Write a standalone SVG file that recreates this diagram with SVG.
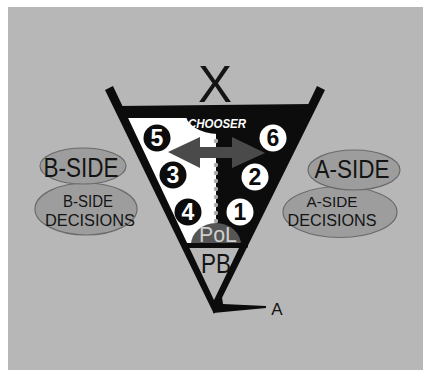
<svg xmlns="http://www.w3.org/2000/svg" width="428" height="372" viewBox="0 0 428 372">
<style>
.t{font-family:"Liberation Sans",Arial,sans-serif;fill:#141414;text-anchor:middle}
.oval{fill:#9d9d9d;stroke:#6a6a6a;stroke-width:1.2}
.bk{fill:#0c0c0c}
.num{font-family:"Liberation Sans",Arial,sans-serif;font-size:23px;font-weight:bold;text-anchor:middle}
.dot{fill:#a9a9a9}
</style>
<rect x="0" y="0" width="428" height="372" fill="#ffffff"/>
<rect id="background" x="8" y="7" width="415" height="363" fill="#b7b7b7"/>
<g id="funnel">
  <polygon class="bk" points="118,106 312,104 246,248 183,248"/>
  <polygon fill="#ffffff" points="126,118 216,118 216,243 185,243"/>
  <path class="bk" d="M185,112 A33,22 0 0 0 251,112 Z"/>
  <g id="perforation">
    <circle class="dot" cx="216" cy="141" r="2.2"/>
    <circle class="dot" cx="216" cy="149" r="2.2"/>
    <circle class="dot" cx="216" cy="165" r="2.2"/>
    <circle class="dot" cx="216" cy="173" r="2.2"/>
    <circle class="dot" cx="216" cy="181" r="2.2"/>
    <circle class="dot" cx="216" cy="189" r="2.2"/>
    <circle class="dot" cx="216" cy="197" r="2.2"/>
    <circle class="dot" cx="216" cy="205" r="2.2"/>
    <circle class="dot" cx="216" cy="213" r="2.2"/>
    <circle class="dot" cx="216" cy="221" r="2.2"/>
    <circle class="dot" cx="216" cy="229" r="2.2"/>
  </g>
  <polygon id="double-arrow" fill="#4a4a4a" points="168,152 200,137 200,147 232,147 232,137 265,153 232,168 232,158 200,158 200,168"/>
  <path d="M191,245 A25,22 0 0 1 241,245 Z" fill="#555555"/>
  <rect class="bk" x="182" y="243" width="66" height="4.5"/>
  <polygon class="bk" points="105,90 113,86 214,300 317,86 325,90 214,314"/>
  <polygon class="bk" points="217,297 222,297 223,304 266,306 266,308 213,313"/>
</g>
<text class="t" x="215" y="102" font-size="51" style="font-weight:300">X</text>
<text x="217" y="128" font-family="'Liberation Sans',Arial,sans-serif" font-size="13" font-weight="bold" font-style="italic" fill="#ffffff" text-anchor="middle" textLength="58" lengthAdjust="spacingAndGlyphs">CHOOSER</text>
<g id="n5"><circle cx="157" cy="138" r="13.5" fill="#0c0c0c"/><text class="num" x="157" y="146" fill="#ffffff">5</text></g>
<g id="n6"><circle cx="273" cy="138" r="13.5" fill="#ffffff"/><text class="num" x="273" y="146" fill="#0c0c0c">6</text></g>
<g id="n3"><circle cx="173" cy="175" r="13.5" fill="#0c0c0c"/><text class="num" x="173" y="183" fill="#ffffff">3</text></g>
<g id="n2"><circle cx="255" cy="177" r="13.5" fill="#ffffff"/><text class="num" x="255" y="185" fill="#0c0c0c">2</text></g>
<g id="n4"><circle cx="188" cy="212" r="13.5" fill="#0c0c0c"/><text class="num" x="188" y="220" fill="#ffffff">4</text></g>
<g id="n1"><circle cx="240" cy="212" r="13.5" fill="#ffffff"/><text class="num" x="240" y="220" fill="#0c0c0c">1</text></g>
<text id="pol" x="218" y="242" font-family="'Liberation Sans',Arial,sans-serif" font-size="22" fill="#cfcfcf" text-anchor="middle" textLength="38" lengthAdjust="spacingAndGlyphs">PoL</text>
<text id="pb" class="t" x="216" y="273" font-size="27" textLength="30" lengthAdjust="spacingAndGlyphs">PB</text>
<text id="a" class="t" x="277" y="315" font-size="17">A</text>
<g id="b-side-decisions">
  <ellipse class="oval" cx="86" cy="209" rx="51" ry="26"/>
  <text class="t" x="88" y="206.5" font-size="16" textLength="50" lengthAdjust="spacingAndGlyphs">B-SIDE</text>
  <text class="t" x="90" y="225.5" font-size="16" textLength="90" lengthAdjust="spacingAndGlyphs">DECISIONS</text>
</g>
<g id="b-side">
  <ellipse class="oval" cx="83" cy="166" rx="43" ry="18"/>
  <text class="t" x="81" y="177" font-size="27" textLength="75" lengthAdjust="spacingAndGlyphs">B-SIDE</text>
</g>
<g id="a-side-decisions">
  <ellipse class="oval" cx="340" cy="212" rx="57" ry="25.5"/>
  <text class="t" x="332" y="206.5" font-size="15" textLength="51" lengthAdjust="spacingAndGlyphs">A-SIDE</text>
  <text class="t" x="332" y="225.5" font-size="16" textLength="89" lengthAdjust="spacingAndGlyphs">DECISIONS</text>
</g>
<g id="a-side">
  <ellipse class="oval" cx="354" cy="170" rx="46" ry="20"/>
  <text class="t" x="352" y="178" font-size="25" textLength="75" lengthAdjust="spacingAndGlyphs">A-SIDE</text>
</g>
</svg>
